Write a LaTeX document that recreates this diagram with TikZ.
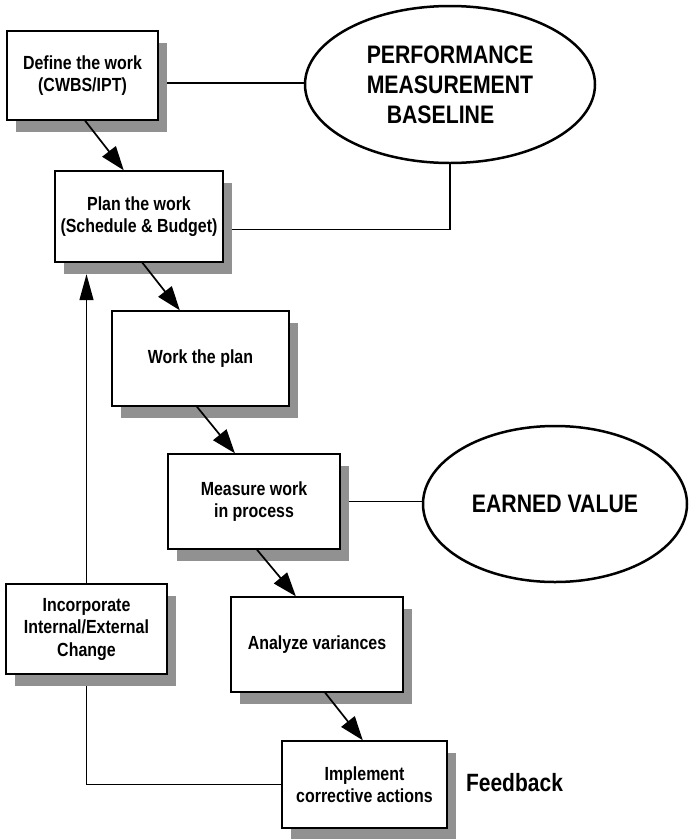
\documentclass[tikz,border=0pt]{standalone}
\usepackage{fontspec}
\setmainfont{Liberation Sans}[FakeStretch=0.84]
\usetikzlibrary{shapes.geometric,shadows,arrows.meta,calc,backgrounds}
\definecolor{shadowgray}{RGB}{145,145,145}

\begin{document}
\begin{tikzpicture}[x=1pt,y=-1pt,
  stepbox/.style={draw,line width=1.4pt,fill=white,inner sep=0pt,align=center,
    font=\fontsize{19}{22.5}\selectfont\bfseries,
    drop shadow={shadow xshift=9pt,shadow yshift=-11.5pt,fill=shadowgray,opacity=1}},
  goal/.style={ellipse,draw,line width=2.5pt,fill=white,inner sep=0pt,
    font=\fontsize{25.3}{30}\selectfont\bfseries},
  link/.style={draw,line width=1.2pt},
  flow/.style={draw,line width=1.7pt,-{Triangle[length=24pt,width=17pt]}},
  upflow/.style={draw,line width=1.3pt,-{Triangle[length=26pt,width=14pt]}}]

\useasboundingbox (0,0) rectangle (692,839);

% process steps
\node[stepbox,minimum width=151pt,minimum height=89pt] (b1) at (82.5,75.5)
  {Define the work\\(CWBS/IPT)};
\node[stepbox,minimum width=168pt,minimum height=91pt] (b2) at (139,216.5)
  {Plan the work\\(Schedule \& Budget)};
\node[stepbox,minimum width=177pt,minimum height=95pt] (b3) at (200.5,358.5)
  {Work the plan};
\node[stepbox,minimum width=172pt,minimum height=95pt] (b4) at (254,501.5)
  {Measure work\\in process};
\node[stepbox,minimum width=172pt,minimum height=95pt] (b5) at (317,644.5)
  {Analyze variances};
\node[stepbox,minimum width=165pt,minimum height=87pt] (b6) at (364.5,784.5)
  {Implement\\corrective actions};
\node[stepbox,minimum width=161pt,minimum height=90pt] (b7) at (86.5,629)
  {Incorporate\\Internal/External\\Change};

% outcomes
\node[goal,minimum width=290pt,minimum height=157pt,align=left] (pmb) at (450,84.5)
  {PERFORMANCE\\MEASUREMENT\\\hspace*{20pt}BASELINE};
\node[goal,minimum width=264pt,minimum height=156pt] (ev) at (555,504)
  {EARNED VALUE};

\node[font=\fontsize{25}{28}\selectfont\bfseries,inner sep=0pt] (fb) at (514.5,783) {Feedback};

% plain links, kept under the shadows
\begin{pgfonlayer}{background}
  \coordinate (p1) at ($(b1.north east)!0.584!(b1.south east)$);
  \coordinate (p2) at ($(b2.north east)!0.637!(b2.south east)$);
  \draw[link] (p1) -- (p1 -| pmb.west);
  \draw[link] (p2) -| (pmb.south);
  \draw[link] (b4.east) -- (b4.east -| ev.west);
  \draw[link] (b7.south) |- (b6.west);
\end{pgfonlayer}

% process flow
\draw[flow] ($(b1.south west)!0.517!(b1.south east)$) -- ($(b2.north west)!0.41!(b2.north east)$);
\draw[flow] ($(b2.south west)!0.52!(b2.south east)$) -- ($(b3.north west)!0.384!(b3.north east)$);
\draw[flow] ($(b3.south west)!0.48!(b3.south east)$) -- ($(b4.north west)!0.39!(b4.north east)$);
\draw[flow] ($(b4.south west)!0.517!(b4.south east)$) -- ($(b5.north west)!0.378!(b5.north east)$);
\draw[flow] ($(b5.south west)!0.547!(b5.south east)$) -- ($(b6.north west)!0.49!(b6.north east)$);

% feedback into planning
\coordinate (fbtip) at ($(b7.north |- b2.south)+(0,11.5)$);
\draw[upflow] (b7.north) -- (fbtip);
\end{tikzpicture}
\end{document}
